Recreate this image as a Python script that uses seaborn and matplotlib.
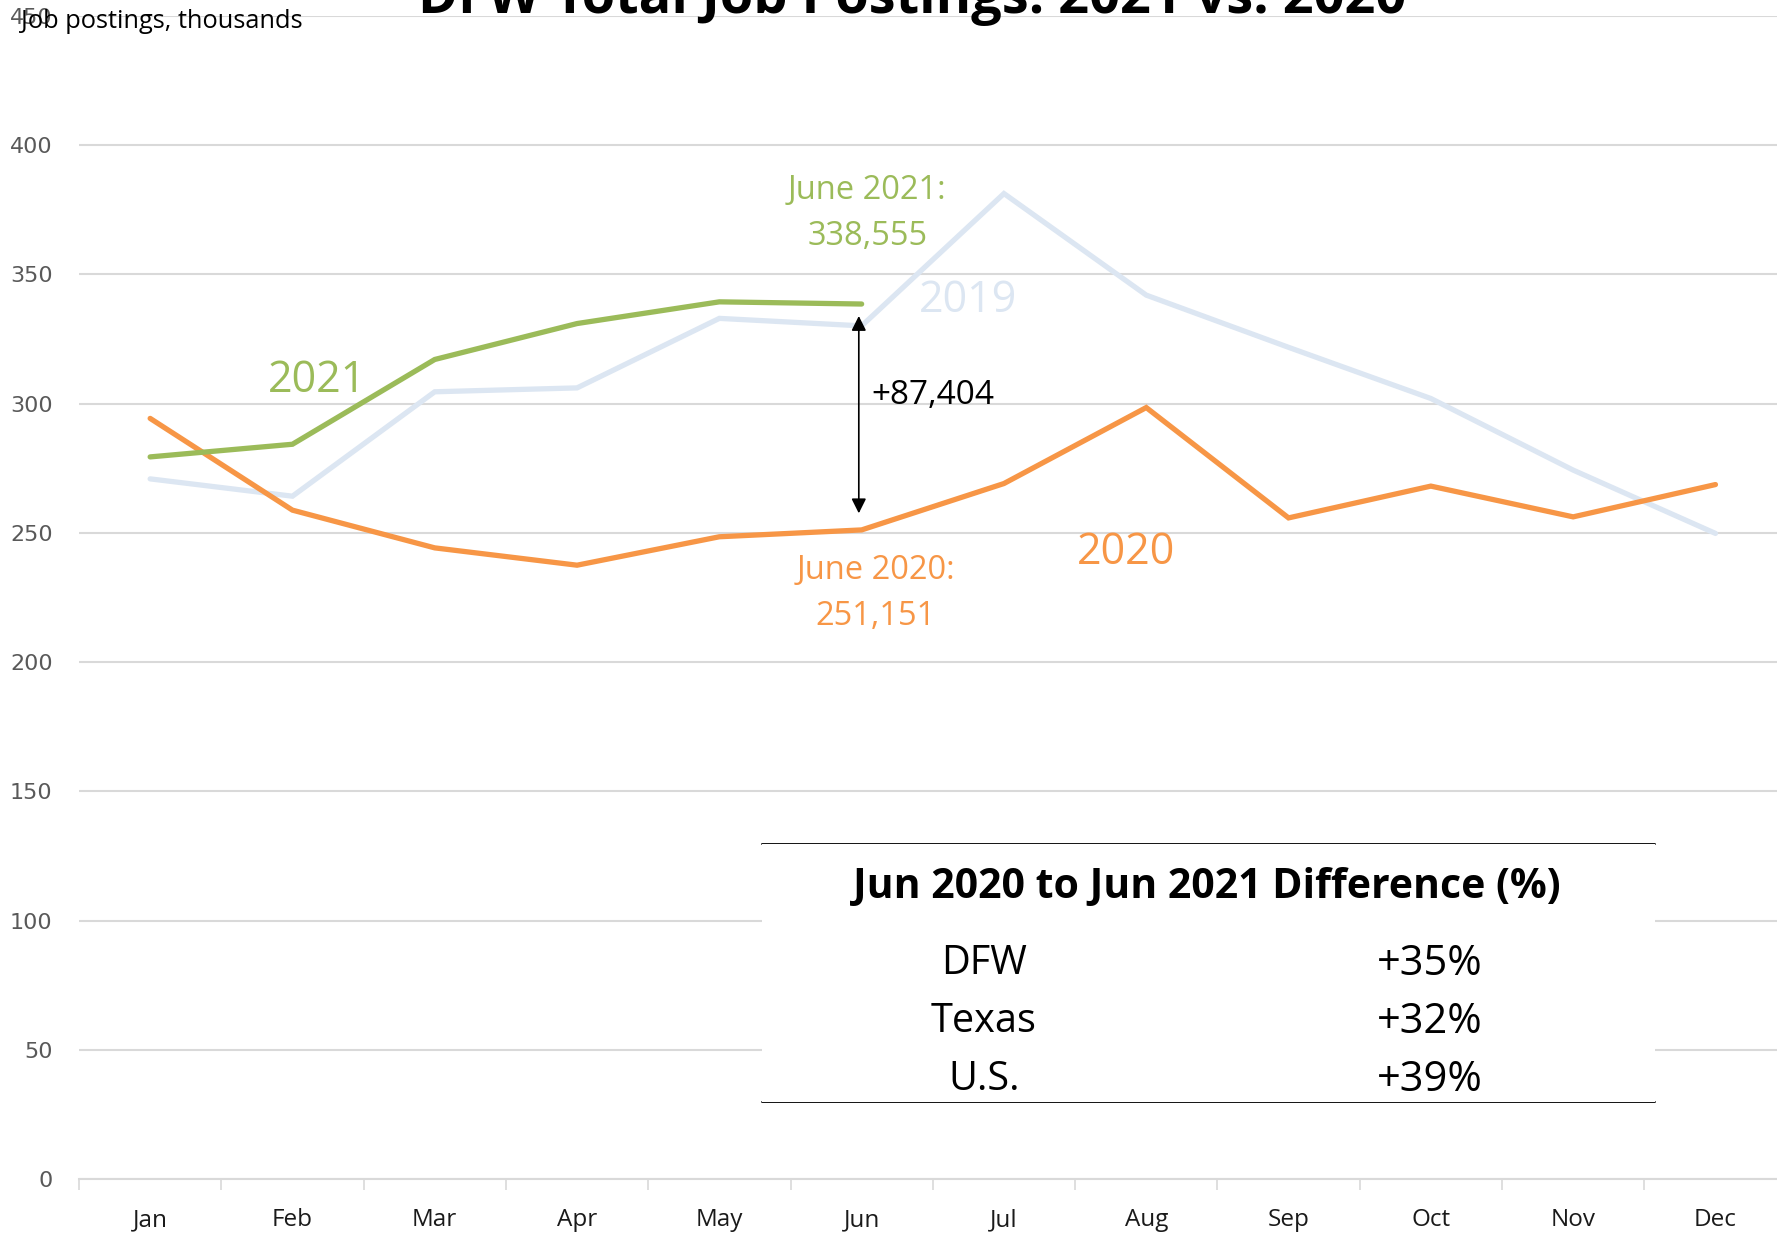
import matplotlib
matplotlib.use("Agg")
import matplotlib.pyplot as plt
from matplotlib.ticker import FixedLocator, NullFormatter
from matplotlib.patches import Rectangle
import seaborn as sns
import pandas as pd

months = ["Jan", "Feb", "Mar", "Apr", "May", "Jun", "Jul", "Aug", "Sep", "Oct", "Nov", "Dec"]
jobs_2019 = [270.9, 264.2, 304.6, 306.1, 333.0, 330.1, 381.3, 342.0, 321.8, 302.0, 274.3, 249.8]
jobs_2020 = [294.3, 258.8, 244.2, 237.5, 248.5, 251.151, 269.1, 298.5, 255.8, 268.1, 256.2, 268.7]
jobs_2021 = [279.4, 284.3, 317.1, 331.0, 339.4, 338.555]
y_ticks = [0, 50, 100, 150, 200, 250, 300, 350, 400, 450]
table_rows = ["DFW", "Texas", "U.S."]
table_vals = ["+35%", "+32%", "+39%"]

C19 = "#DCE6F2"
C20 = "#F79646"
C21 = "#9BBB59"
GRID = "#D9D9D9"

sns.set_theme(style="white")
plt.rcParams["font.family"] = ["Open Sans", "DejaVu Sans"]

W, H = 1777, 1233
fig = plt.figure(figsize=(W / 100, H / 100), dpi=100)
# axes: left 79px, x-range -0.5..11.5 with 142.3px per category, y 0 at 1179px, 450 at 16px
ax = fig.add_axes([79 / W, (H - 1179) / H, 12 * 142.3 / W, (1179 - 16) / H])

df19 = pd.DataFrame({"month": months, "value": jobs_2019})
df20 = pd.DataFrame({"month": months, "value": jobs_2020})
df21 = pd.DataFrame({"month": months[:len(jobs_2021)], "value": jobs_2021})

sns.lineplot(data=df19, x="month", y="value", ax=ax, color=C19, lw=3.8, zorder=3, sort=False)
sns.lineplot(data=df20, x="month", y="value", ax=ax, color=C20, lw=3.8, zorder=4, sort=False)
sns.lineplot(data=df21, x="month", y="value", ax=ax, color=C21, lw=3.8, zorder=5, sort=False)
for l in ax.lines:
    l.set_solid_capstyle("round")
    l.set_solid_joinstyle("miter")

ax.set_xlim(-0.5, 11.5)
ax.set_ylim(0, 450)
ax.set_yticks(y_ticks)
ax.set_yticklabels([str(v) for v in y_ticks], family="DejaVu Sans", fontsize=16, color="#595959")
ax.tick_params(axis="y", length=0, pad=19)
ax.set_xticks(range(12))
ax.set_xticklabels(months, fontsize=17.5, color="#1a1a1a")
ax.xaxis.set_minor_locator(FixedLocator([i - 0.5 for i in range(13)]))
ax.xaxis.set_minor_formatter(NullFormatter())
ax.tick_params(axis="x", which="major", length=0, pad=21)
ax.tick_params(axis="x", which="minor", length=8, width=1.2, color=GRID, bottom=True)
ax.grid(axis="y", color=GRID, lw=1.5, zorder=0)
ax.grid(axis="x", visible=False)
ax.set_axisbelow(True)
for s in ["top", "right", "left"]:
    ax.spines[s].set_visible(False)
ax.spines["bottom"].set_color(GRID)
ax.spines["bottom"].set_linewidth(1.5)
ax.set_xlabel("")
ax.set_ylabel("")

# title (cut off at the top)
fig.text(912 / W, 1 - 13 / H, "DFW Total Job Postings: 2021 vs. 2020", ha="center", va="baseline",
         fontsize=39, fontweight="bold", color="black")
fig.text(21 / W, 1 - 21 / H, "Job postings, thousands", ha="left", va="center", fontsize=18.3, color="black")

# series labels
ax.text(1.17, 309, "2021", color=C21, fontsize=31, ha="center", va="center")
ax.text(5.75, 340, "2019", color=C19, fontsize=31, ha="center", va="center")
ax.text(6.86, 242.5, "2020", color=C20, fontsize=31, ha="center", va="center")

ax.text(5.04, 382.5, "June 2021:", color=C21, fontsize=23.5, ha="center", va="center")
ax.text(5.04, 364.5, "338,555", color=C21, fontsize=23.5, ha="center", va="center")
ax.text(5.1, 235.5, "June 2020:", color=C20, fontsize=23.5, ha="center", va="center")
ax.text(5.1, 217.5, "251,151", color=C20, fontsize=23.5, ha="center", va="center")

ax.annotate("", xy=(4.98, 335), xytext=(4.98, 256.5),
            arrowprops=dict(arrowstyle="<|-|>", color="black", lw=1.2, mutation_scale=22), zorder=6)
ax.text(5.07, 303, "+87,404", color="black", fontsize=24, ha="left", va="center")

# summary table
x0, x1 = 762, 1655
def fx(px):
    return px / W
def fy(py):
    return 1 - py / H
fig.patches.append(Rectangle((fx(x0), fy(1102)), fx(x1) - fx(x0), fy(844) - fy(1102),
                             transform=fig.transFigure, facecolor="white", edgecolor="none", zorder=2))
fig.add_artist(plt.Line2D([fx(x0), fx(x1)], [fy(844), fy(844)], color="black", lw=1.3))
fig.add_artist(plt.Line2D([fx(x0), fx(x1)], [fy(1102), fy(1102)], color="black", lw=1.3))
fig.text(fx(1207), fy(888), "Jun 2020 to Jun 2021 Difference (%)", ha="center", va="center",
         fontsize=29.5, fontweight="bold", color="black", zorder=3)
for i, (r, v) in enumerate(zip(table_rows, table_vals)):
    yy = fy(964 + i * 58)
    fig.text(fx(984), yy, r, ha="center", va="center", fontsize=28.5, color="black", zorder=3)
    fig.text(fx(1430), yy, v, ha="center", va="center", fontsize=30, color="black", zorder=3)

fig.savefig("out.png", dpi=100)
